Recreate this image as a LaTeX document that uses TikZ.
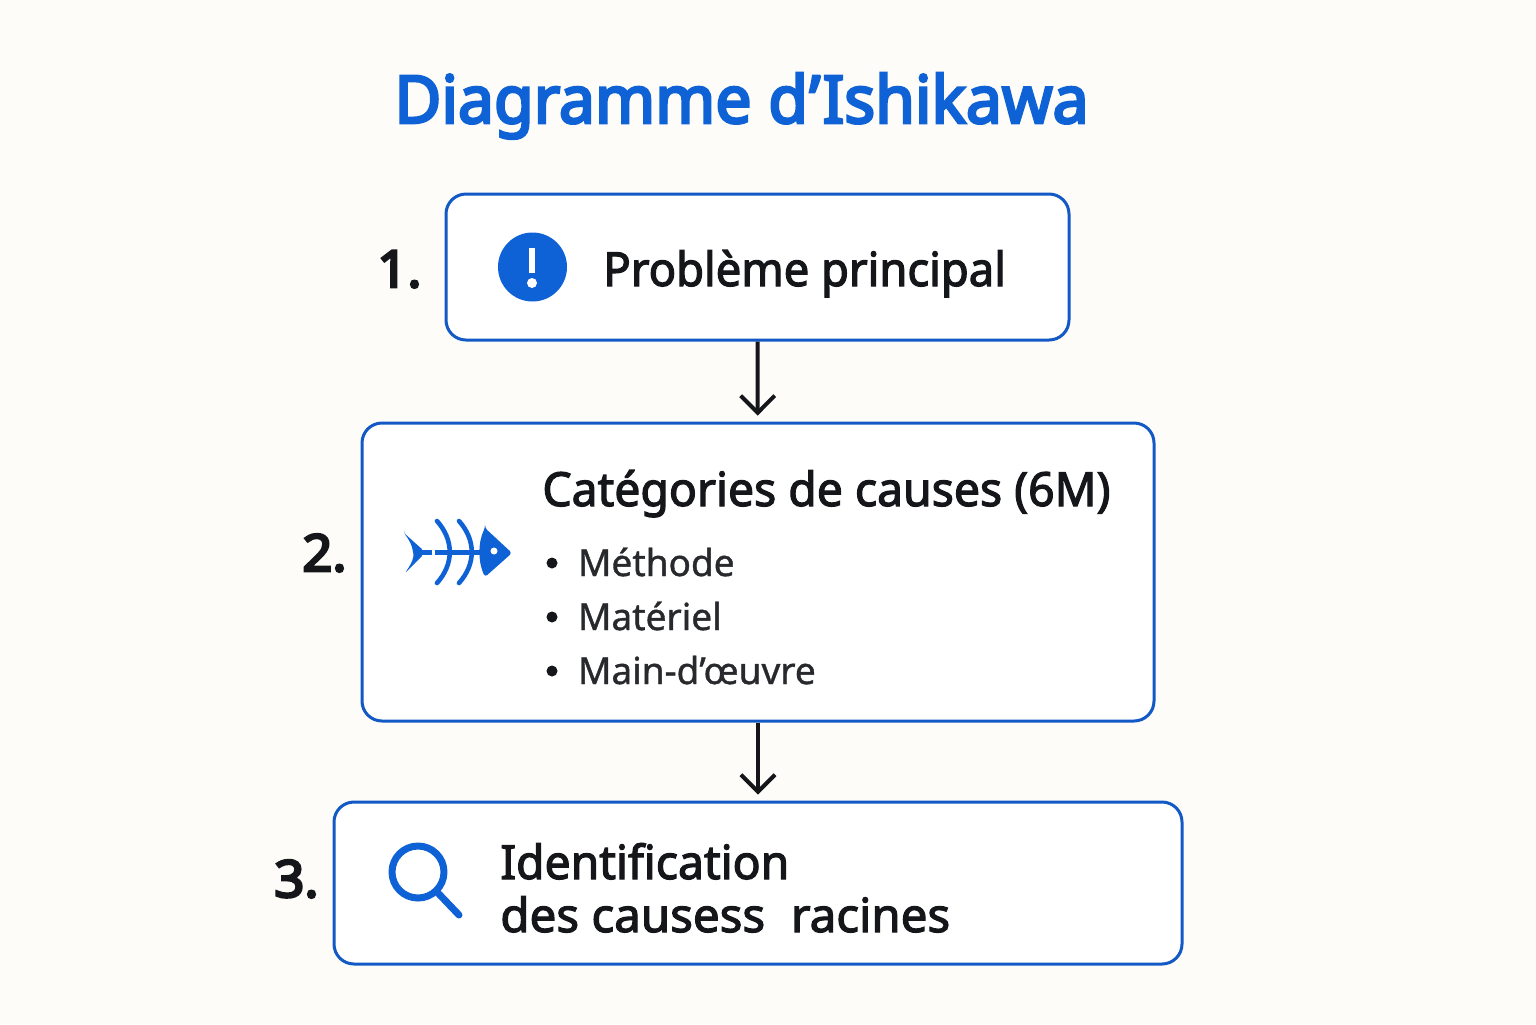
\documentclass[tikz,border=0pt]{standalone}
\usepackage{fontspec}
\usetikzlibrary{arrows.meta}
\setmainfont{Noto Sans}
\newfontfamily\medf[FakeBold=2.5,FakeStretch=0.985]{Noto Sans}
\newfontfamily\medg[FakeBold=2.5,FakeStretch=0.965]{Noto Sans}
\newfontfamily\medh[FakeBold=2.5,FakeStretch=1.01]{Noto Sans}
\newfontfamily\boldf[FakeBold=4,FakeStretch=0.975]{Noto Sans}
\newfontfamily\numf[FakeBold=5,FakeStretch=1.03]{Noto Sans}
\newfontfamily\itemf[FakeBold=1,FakeStretch=0.995]{Noto Sans}
\definecolor{bluemain}{HTML}{0F62D6}
\definecolor{boxblue}{HTML}{1259C6}
\definecolor{inkc}{HTML}{14161A}
\definecolor{paper}{HTML}{FDFCF8}
\tikzset{
  x=0.5pt,y=-0.5pt,
  stepbox/.style={draw=boxblue,line width=1.5pt,fill=white,rounded corners=10pt,inner sep=0pt},
  flow/.style={draw=inkc,line width=2pt,-{Straight Barb[length=8.5pt,width=17pt,line width=2pt]},shorten >=3pt},
  num/.style={anchor=base west,text=inkc,inner sep=0pt,font=\numf\fontsize{25.5}{30}\selectfont},
  head/.style={anchor=base west,text=inkc,inner sep=0pt,font=\medf\fontsize{23.5}{28}\selectfont},
  item/.style={anchor=base west,text=inkc!92!white,inner sep=0pt,font=\itemf\fontsize{18.6}{23}\selectfont},
  icon/.style={draw=bluemain,line cap=round,line join=round},
}
\begin{document}
\begin{tikzpicture}
\useasboundingbox[fill=paper] (0,0) rectangle (1536,1024);
\node[anchor=base west,inner sep=0pt,text=bluemain,font=\boldf\fontsize{33}{40}\selectfont] (title) at (394,123) {Diagramme d\kern0.02em’\kern0.03em Ishikawa};

\node[stepbox,minimum width=311.5pt,minimum height=73pt] (b1) at (757.5,267) {};
\node[stepbox,minimum width=396pt,minimum height=149pt] (b2) at (758,572) {};
\node[stepbox,minimum width=424pt,minimum height=81pt] (b3) at (758,883) {};

\draw[flow] (b1) -- (b2);
\draw[flow] (b2) -- (b3);

\node[num] (n1) at (377,287) {1.};
\node[num] (n2) at (302,571) {2.};
\node[num] (n3) at (274,897) {3.};

% exclamation icon
\fill[bluemain] (532.5,267) circle[radius=34.5];
\fill[white] (529,248) rectangle (535,273);
\fill[white] (532,283) circle[radius=5];

\node[head,font=\medg\fontsize{23.5}{28}\selectfont] (t1) at (603,286) {Problème principal};

% fish icon
\fill[bluemain,rounded corners=1pt] (404,533) -- (423,550) -- (423,555) -- (405,573) .. controls (412,563) and (414,557) .. (413,552) .. controls (412,546) and (410,541) .. (404,533) -- cycle;
\draw[icon,line width=2.2pt,line cap=butt] (420,552.5) -- (432,552.5);
\draw[icon,line width=2.2pt,line cap=butt] (435,552.5) -- (482,552.5);
\draw[icon,line width=2.3pt] (437,521) .. controls (454,540) and (454,564) .. (437,583);
\draw[icon,line width=2.3pt] (459,521) .. controls (476,540) and (476,564) .. (459,583);
\fill[bluemain,rounded corners=1.5pt] (485,528) -- (512,553) -- (485,577) .. controls (478,562) and (478,542) .. (485,528) -- cycle;
\fill[white] (494,551) circle[radius=3.5];

\node[head] (t2) at (542,506) {Catégories de causes (6M)};
\fill[inkc] (552,563) circle[radius=5.5];
\fill[inkc] (552,617) circle[radius=5.5];
\fill[inkc] (552,671) circle[radius=5.5];
\node[item] (i1) at (577.5,576) {Méthode};
\node[item] (i2) at (577.5,630) {Matériel};
\node[item] (i3) at (577.5,684) {Main-d’œuvre};

% magnifier icon
\draw[icon,line width=3.5pt] (418,872) circle[radius=26];
\draw[icon,line width=3.5pt] (438,893) -- (459,915);

\node[head] (t3a) at (500,879) {Identification};
\node[head,font=\medh\fontsize{23.5}{28}\selectfont] (t3b) at (500,932) {des causess\hspace{0.55em}racines};
\end{tikzpicture}
\end{document}
